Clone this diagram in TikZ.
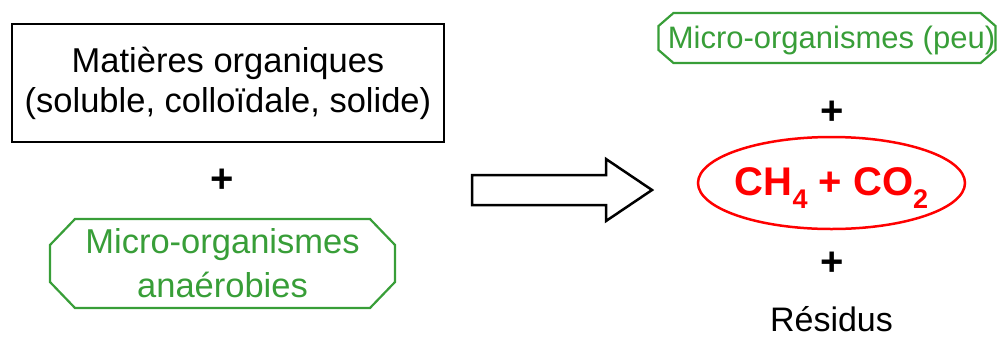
\documentclass[tikz,border=0pt]{standalone}
\usepackage{fontspec}
\setmainfont{Liberation Sans}
\usetikzlibrary{calc,shapes.geometric}
\definecolor{mogreen}{RGB}{56,158,56}
\definecolor{cored}{RGB}{255,0,0}
\newcommand{\octpath}[5]{\draw[octo] ($(#1)+(-#2+#4,-#3)$) -- ($(#1)+(#2-#4,-#3)$) -- ($(#1)+(#2,-#3+#5)$) -- ($(#1)+(#2,#3-#5)$) -- ($(#1)+(#2-#4,#3)$) -- ($(#1)+(-#2+#4,#3)$) -- ($(#1)+(-#2,#3-#5)$) -- ($(#1)+(-#2,-#3+#5)$) -- cycle;}
\begin{document}
\begin{tikzpicture}[x=1pt,y=-1pt,
  plus/.style={font=\fontsize{40}{40}\selectfont\bfseries, inner sep=0, anchor=base},
  mo/.style={text=mogreen, inner sep=0},
  octo/.style={draw=mogreen, line width=2.2pt, line join=miter},
  blockarrow/.style={draw=black, line width=2.5pt, line join=miter}]
\useasboundingbox (0,0) rectangle (997,338);
% left column
\node[draw, line width=2pt, minimum width=432, minimum height=118, inner sep=0, align=center, font=\fontsize{34.5}{40}\selectfont] (mat) at (228,83) {Matières organiques\\(soluble, colloïdale, solide)};
\node[plus] (p1) at (222,192) {+};
\node[mo, align=center, font=\fontsize{34.5}{44}\selectfont] (ana) at (222.5,263) {Micro-organismes\\anaérobies};
\coordinate (anac) at (222.5,263.5);
\octpath{anac}{172.5}{44.5}{25}{26}
% block arrow
\coordinate (a1) at (472,175);
\coordinate (a2) at (652,190);
\draw[blockarrow] (a1) -- (606,175) -- (606,159) -- (a2) -- (606,221) -- (606,205) -- (472,205) -- cycle;
% right column
\node[mo, font=\fontsize{31}{31}\selectfont, text height=25, text depth=5] (peu) at (831.5,38) {Micro-organismes (peu)};
\coordinate (peuc) at (827,38);
\octpath{peuc}{168.5}{25}{15}{13}
\node[plus] (p2) at (832,124) {+};
\node[draw=cored, line width=2.5pt, ellipse, minimum width=267, minimum height=92, inner sep=0] (gasbox) at (831.5,183) {};
\node[text=cored, inner sep=0, font=\fontsize{40}{40}\selectfont\bfseries, text height=30, text depth=6] (gas) at (gasbox.center) {CH\raisebox{-13pt}{\fontsize{27}{27}\selectfont 4} + CO\raisebox{-13pt}{\fontsize{27}{27}\selectfont 2}};
\node[plus] (p3) at (832,275) {+};
\node[font=\fontsize{34}{34}\selectfont, anchor=base, inner sep=0] (res) at (831.5,331) {Résidus};
\end{tikzpicture}
\end{document}
